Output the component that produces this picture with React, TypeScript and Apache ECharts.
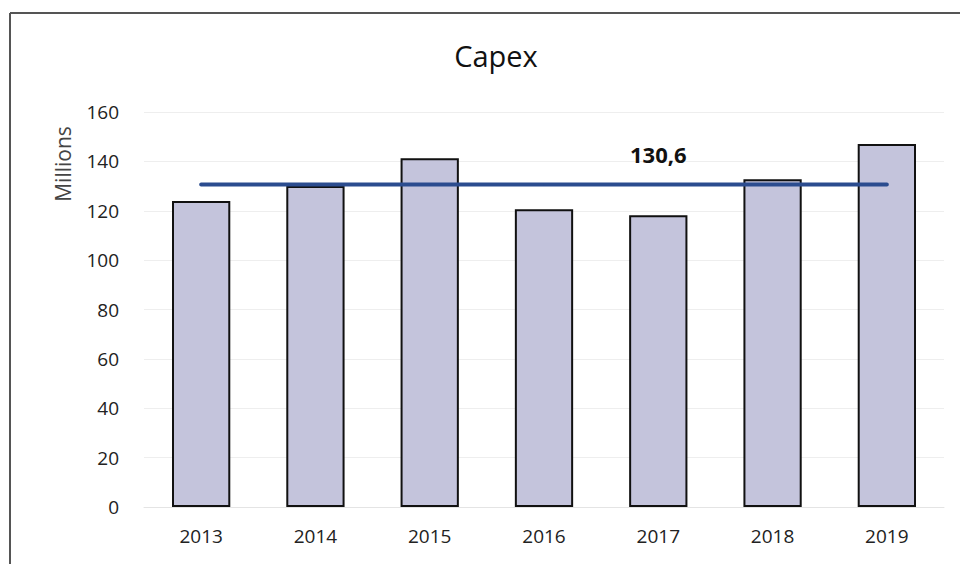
import React, { useEffect, useRef } from "react";
import * as echarts from "echarts";

const categories = ["2013", "2014", "2015", "2016", "2017", "2018", "2019"];
const capexValues = [124, 130, 141.3, 120.6, 118.2, 132.8, 147];
const averageValues = [130.6, 130.6, 130.6, 130.6, 130.6, 130.6, 130.6];
const averageLabel = "130,6";
const averageLabelIndex = 4;
const yTicks = [0, 20, 40, 60, 80, 100, 120, 140, 160];

const FONT = "'Open Sans', 'Noto Sans', sans-serif";

export default function App() {
  const ref = useRef<HTMLDivElement>(null);
  useEffect(() => {
    if (!ref.current) return;
    const chart = echarts.init(ref.current, null, { renderer: "svg" });
    chart.setOption({
      animation: false,
      backgroundColor: "#ffffff",
      title: {
        text: "Capex",
        left: 491,
        top: 36,
        textAlign: "center",
        textStyle: { fontFamily: FONT, fontSize: 29, fontWeight: "normal", color: "#111" },
      },
      grid: { left: 144, right: 16, top: 112, bottom: 57 },
      xAxis: {
        type: "category",
        data: categories,
        axisLine: { show: true, lineStyle: { color: "#e4e4e4", width: 1 } },
        axisTick: { show: false },
        axisLabel: { fontFamily: FONT, fontSize: 19, color: "#222", margin: 19 },
      },
      yAxis: {
        type: "value",
        min: yTicks[0],
        max: yTicks[yTicks.length - 1],
        interval: 20,
        axisLine: { show: false },
        axisTick: { show: false },
        splitLine: { lineStyle: { color: "#eeeeee", width: 1 } },
        axisLabel: { fontFamily: FONT, fontSize: 19, color: "#222", margin: 25 },
      },
      graphic: [
        {
          type: "line",
          shape: { x1: 10, y1: 13, x2: 960, y2: 13 },
          style: { stroke: "#555", lineWidth: 2 },
        },
        {
          type: "line",
          shape: { x1: 10, y1: 13, x2: 10, y2: 564 },
          style: { stroke: "#555", lineWidth: 2 },
        },
        {
          type: "text",
          x: 63,
          y: 164,
          rotation: Math.PI / 2,
          style: {
            text: "Millions",
            fontFamily: FONT,
            fontSize: 21,
            fill: "#444",
            align: "center",
            verticalAlign: "middle",
          },
        },
      ],
      series: [
        {
          type: "bar",
          data: capexValues,
          barWidth: "51%",
          itemStyle: { color: "#c4c4dc", borderColor: "#111", borderWidth: 2 },
        },
        {
          type: "line",
          data: averageValues.map((v, i) =>
            i === averageLabelIndex
              ? {
                  value: v,
                  label: {
                    show: true,
                    position: "top",
                    distance: 19,
                    formatter: averageLabel,
                    fontFamily: FONT,
                    fontSize: 22,
                    fontWeight: "bold",
                    color: "#111",
                  },
                }
              : v
          ),
          symbol: "circle",
          symbolSize: 1,
          showAllSymbol: true,
          lineStyle: { color: "#2b4c8f", width: 4, cap: "round" },
          itemStyle: { color: "#2b4c8f" },
          z: 5,
        },
      ],
    });
    return () => chart.dispose();
  }, []);
  return (
    <div
      ref={ref}
      style={{ position: "fixed", left: 0, top: 0, width: 960, height: 564 }}
    />
  );
}
